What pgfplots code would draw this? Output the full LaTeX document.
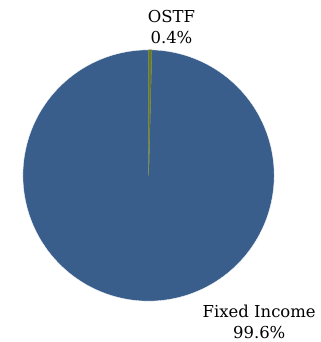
\documentclass[border=0pt]{standalone}
\usepackage{pgfplots}
\pgfplotsset{compat=1.18}
\usepackage{pgfplotstable}
\usepackage{fontspec}
\setmainfont{DejaVu Serif}

\definecolor{fiblue}{HTML}{3A5E8C}
\definecolor{ostfolive}{HTML}{66792C}

% share of each slice, in percent, clockwise from 12 o'clock
\pgfplotstableread{
label value
OSTF 0.4
Fixed 99.6
}\pietable

\begin{document}
\begin{tikzpicture}
\pgfplotstablegetelem{0}{value}\of\pietable \let\vOSTF\pgfplotsretval
\pgfplotstablegetelem{1}{value}\of\pietable \let\vFI\pgfplotsretval
\pgfmathsetmacro\aStart{90}
\pgfmathsetmacro\aMid{90-3.6*\vOSTF}
\pgfmathsetmacro\aEnd{\aMid-3.6*\vFI}
\begin{axis}[
    hide axis,
    x=126pt, y=126pt,
    xmin=-1.1825, xmax=1.365,
    ymin=-1.317, ymax=1.397,
    clip=false,
]
\addplot[fill=fiblue, draw=white, line width=0.3pt, domain=\aMid:\aEnd, samples=240]
    ({cos(x)},{sin(x)}) -- (axis cs:0,0) -- cycle;
\addplot[fill=ostfolive, draw=ostfolive, line width=0.5pt, domain=\aStart:\aMid, samples=5]
    ({cos(x)},{sin(x)}) -- (axis cs:0,0) -- cycle;
\node[font=\fontsize{16.5}{21.5}\selectfont, align=center] at (axis cs:0.1825,1.18) {OSTF\\0.4\%};
\node[font=\fontsize{16.5}{21.5}\selectfont, align=center] at (axis cs:0.881,-1.163) {Fixed Income\\99.6\%};
\path (axis cs:-1.1825,-1.317) rectangle (axis cs:1.365,1.397);
\end{axis}
\end{tikzpicture}
\end{document}
